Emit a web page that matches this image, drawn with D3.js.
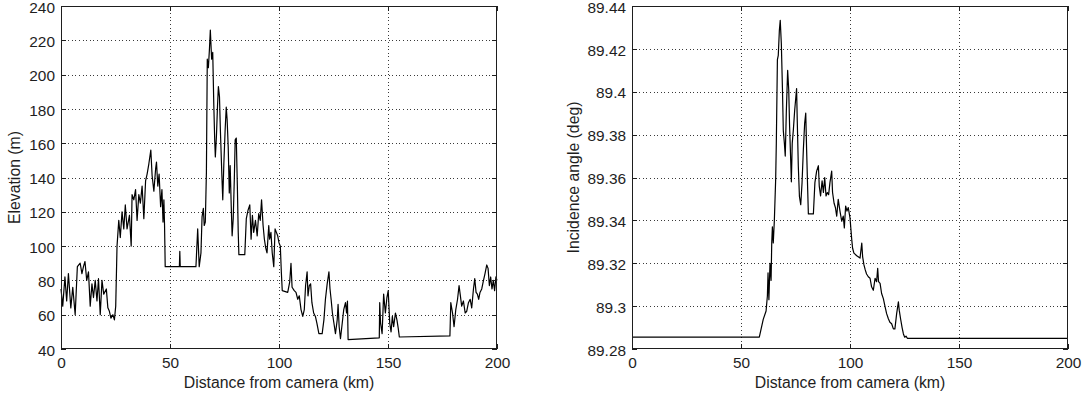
<!DOCTYPE html>
<html>
<head>
<meta charset="utf-8">
<script src="https://cdn.jsdelivr.net/npm/d3@7"></script>
<style>
  body { margin: 0; background: #fff; }
  text { font-family: "Liberation Sans", Arial, sans-serif; fill: #1e1e1e; }
</style>
</head>
<body>
<svg id="fig" width="1086" height="400"></svg>
<script>
// Terrain profile along the line of sight (distance in km, elevation in m)
const elevKm = [0,0.8,1.8,2.6,3.4,4.5,5.4,6.5,7.5,8.8,9.6,10.3,11.0,11.8,12.6,13.4,14.2,14.9,15.7,16.5,17.2,18.0,18.8,19.6,20.8,21.5,22.2,22.9,23.8,24.5,25.1,25.7,26.5,27.2,28.0,28.8,29.5,30.3,31.4,32.2,32.6,33.4,34.2,34.9,35.7,36.4,37.2,38.0,38.8,39.5,40.3,41.2,41.8,42.6,43.4,43.8,44.4,45.0,45.7,46.3,46.8,47.2,47.5,47.8,54.3,54.5,54.7,61.9,62.7,63.4,64.2,64.7,65.3,65.7,66.2,66.7,67.1,67.6,68.1,68.5,69.1,69.6,70.1,70.5,70.8,71.3,71.8,72.2,72.7,73.1,73.8,74.2,74.7,75.3,75.8,76.2,76.7,77.2,77.6,78.1,78.5,79.0,79.5,79.9,80.4,80.9,81.3,81.6,84.3,85.0,85.8,86.6,87.2,87.8,88.4,89.2,90.0,90.7,91.4,92.0,92.7,93.3,93.9,94.5,95.3,95.7,96.3,96.9,97.6,98.2,98.8,99.4,100.0,100.6,101.1,101.5,104.0,104.9,105.5,106.0,107.0,107.8,108.6,109.3,110.1,110.9,111.6,112.2,112.9,113.3,113.9,114.5,115.1,115.9,116.7,117.4,118.3,119.8,120.6,121.3,122.1,122.9,123.4,123.9,124.5,125.2,125.9,126.7,127.1,127.6,128.2,129.0,129.7,130.5,131.0,131.4,131.7,146.0,146.2,146.6,147.3,148.0,148.8,149.5,150.1,150.8,151.4,152.0,152.6,153.4,154.1,154.7,155.2,178.4,178.8,179.6,180.3,181.1,181.9,182.6,183.1,183.8,184.6,185.4,186.1,186.9,187.7,188.4,189.2,189.8,190.4,191.0,191.6,192.2,193.0,193.8,194.5,195.3,195.9,196.5,197.1,197.7,198.3,198.9,199.5,200];
const elevM = [75,65,82,68,84,64,76,60,88,90,84,88,91,80,85,65,78,70,80,68,81,60,80,72,75,64,62,58,60,57,65,100,115,105,120,110,124,110,118,100,130,127,133,115,130,125,135,116,138,142,148,156,141,132,145,149,135,142,123,133,114,127,112,88,88,97,88,88,110,88,96,117,122,112,114,143,209,204,215,226,209,213,182,162,152,164,182,193,187,168,141,127,148,168,181,174,158,131,147,123,106,116,139,162,163,135,108,95,95,116,121,124,104,118,108,115,106,119,115,127,112,104,99,96,112,104,108,96,88,110,108,106,102,100,84,74,73,79,90,76,74,73,69,71,63,59,63,77,85,71,77,78,67,61,59,55,49,49,57,69,78,85,75,69,61,55,49,57,66,53,46,55,63,67,61,68,45.5,46.5,67,55,49,72,61,70,74,55,50,59,53,61,57,52,47,47.6,67,61,53,63,69,77,72,65,68,61,62,67,69,64,75,81,73,72,69,73,75,80,84,89,87,77,82,75,80,74,82,80];

// Incidence angle of the line of sight on the terrain (deg)
const angleKm = [0,58.4,60.2,61.5,62.1,62.4,62.8,63.3,63.8,64.1,64.4,64.8,65.3,65.9,66.2,66.7,67.1,67.6,68.0,68.5,69.0,69.4,69.9,70.3,70.8,71.4,71.9,72.3,72.8,73.1,73.5,74.0,74.6,75.2,75.5,75.8,76.3,76.8,77.4,78.0,78.6,79.2,79.7,80.1,80.6,80.9,83.2,83.9,84.7,85.5,85.9,86.5,87.2,87.8,88.4,89.0,89.6,90.2,90.8,91.6,92.0,92.7,93.3,93.9,94.6,95.4,96.2,96.9,97.4,98.0,98.6,99.2,100.0,100.8,101.2,101.8,103.1,104.6,105.4,105.8,106.4,107.0,107.6,108.4,109.2,109.9,110.7,111.5,112.2,112.7,113.1,113.8,114.5,115.3,116.1,116.8,117.6,118.3,119.1,119.9,120.6,121.4,122.2,122.6,123.2,123.9,124.5,125.1,125.7,126.3,200];
const angleDeg = [89.2855,89.2855,89.2938,89.2977,89.3047,89.3155,89.303,89.320,89.312,89.3295,89.337,89.3295,89.340,89.359,89.376,89.415,89.417,89.4287,89.4333,89.4225,89.402,89.382,89.376,89.370,89.391,89.410,89.4008,89.3837,89.368,89.358,89.376,89.382,89.391,89.398,89.4015,89.3868,89.365,89.3512,89.3473,89.3574,89.3729,89.3853,89.390,89.373,89.354,89.343,89.343,89.3576,89.363,89.3655,89.356,89.3514,89.3584,89.353,89.360,89.3514,89.353,89.352,89.3576,89.363,89.353,89.348,89.346,89.342,89.3498,89.3443,89.3396,89.342,89.3365,89.3467,89.3443,89.346,89.3412,89.331,89.327,89.3247,89.3235,89.3224,89.3294,89.323,89.3192,89.3169,89.315,89.3137,89.313,89.309,89.3074,89.313,89.3114,89.3176,89.3114,89.3106,89.3059,89.3035,89.2996,89.2965,89.2941,89.2925,89.2918,89.2894,89.2894,89.2965,89.302,89.298,89.2941,89.290,89.287,89.2855,89.286,89.2850,89.2850];

// Axis ticks
const distTicks = [0, 50, 100, 150, 200];
const elevTicks = [40, 60, 80, 100, 120, 140, 160, 180, 200, 220, 240];
const angleTicks = [89.28, 89.30, 89.32, 89.34, 89.36, 89.38, 89.40, 89.42, 89.44];

const xLabel = "Distance from camera (km)";

const svg = d3.select("#fig");

function drawPanel(opts) {
  const { left, top, width, height, xs, ys, yDomain, yTicks, yFmt, yLabel, yLabelX } = opts;
  const g = svg.append("g").attr("transform", `translate(${left},${top})`);

  const x = d3.scaleLinear().domain([0, 200]).range([0, width]);
  const y = d3.scaleLinear().domain(yDomain).range([height, 0]);

  // dotted grid
  const grid = g.append("g").attr("shape-rendering", "crispEdges")
    .attr("stroke", "#3a3a3a").attr("stroke-width", 1).attr("stroke-dasharray", "1,2.6");
  grid.selectAll("line.gx").data(distTicks.slice(1, -1)).join("line")
    .attr("x1", d => Math.round(x(d)) + 0.5).attr("x2", d => Math.round(x(d)) + 0.5)
    .attr("y1", 0).attr("y2", height);
  grid.selectAll("line.gy").data(yTicks.slice(1, -1)).join("line")
    .attr("class", "gy")
    .attr("y1", d => Math.round(y(d)) + 0.5).attr("y2", d => Math.round(y(d)) + 0.5)
    .attr("x1", 0).attr("x2", width);

  // data line
  const pts = xs.map((d, i) => [d, ys[i]]);
  g.append("path").datum(pts)
    .attr("fill", "none").attr("stroke", "#000").attr("stroke-width", 1.2)
    .attr("stroke-linejoin", "round")
    .attr("d", d3.line().x(d => x(d[0])).y(d => y(d[1])));

  // axes with inward ticks
  const fontSize = "15.4px";
  const ax = g.append("g").attr("transform", `translate(0,${height})`)
    .call(d3.axisBottom(x).tickValues(distTicks).tickSizeInner(-5).tickSizeOuter(0).tickPadding(8));
  const ay = g.append("g")
    .call(d3.axisLeft(y).tickValues(yTicks).tickFormat(yFmt).tickSizeInner(-5).tickSizeOuter(0).tickPadding(6));
  const at = g.append("g")
    .call(d3.axisTop(x).tickValues(distTicks).tickFormat("").tickSizeInner(-5).tickSizeOuter(0));
  const ar = g.append("g").attr("transform", `translate(${width},0)`)
    .call(d3.axisRight(y).tickValues(yTicks).tickFormat("").tickSizeInner(-5).tickSizeOuter(0));
  [ax, ay, at, ar].forEach(a => {
    a.select(".domain").remove();
    a.selectAll(".tick line").attr("stroke", "#1e1e1e").attr("shape-rendering", "crispEdges");
    a.selectAll("text").attr("font-size", fontSize).attr("fill", "#1e1e1e")
      .attr("font-family", '"Liberation Sans", Arial, sans-serif');
  });
  ay.selectAll("text").attr("dy", "0.4em");

  // frame
  g.append("rect").attr("x", 0.5).attr("y", 0.5).attr("width", width - 1).attr("height", height - 1)
    .attr("fill", "none").attr("stroke", "#1e1e1e").attr("shape-rendering", "crispEdges");

  // axis titles
  g.append("text").attr("x", width / 2).attr("y", 388 - top)
    .attr("text-anchor", "middle").attr("font-size", "15.8px").text(xLabel);
  g.append("text")
    .attr("transform", `translate(${yLabelX - left},${height / 2}) rotate(-90)`)
    .attr("text-anchor", "middle").attr("font-size", "15.8px").text(yLabel);
}

drawPanel({
  left: 61, top: 6, width: 436, height: 343,
  xs: elevKm, ys: elevM, yDomain: [40, 240], yTicks: elevTicks,
  yFmt: d3.format("d"), yLabel: "Elevation (m)", yLabelX: 20
});

drawPanel({
  left: 632, top: 6, width: 436, height: 343,
  xs: angleKm, ys: angleDeg, yDomain: [89.28, 89.44], yTicks: angleTicks,
  yFmt: d => String(+d.toFixed(2)), yLabel: "Incidence angle (deg)", yLabelX: 579
});
</script>
</body>
</html>
